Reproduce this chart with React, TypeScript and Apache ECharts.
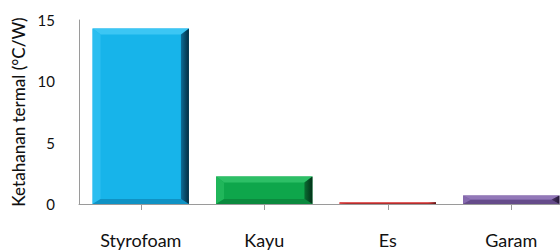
import React, { useEffect, useRef } from "react";
import * as echarts from "echarts";

const categories = ["Styrofoam", "Kayu", "Es", "Garam"];
const values = [14.3, 2.25, 0.15, 0.7];
const yTicks = [0, 5, 10, 15];
const axisTitle = "Ketahanan termal (°C/W)";

const palette = [
  { face: "#17b4ea", top: "#3cc6f4", left: "#2bbef0", right: "#0d6d98", rightDark: "#042c40", bottom: "#0f92c4" },
  { face: "#0ea64b", top: "#2dbf66", left: "#20b65a", right: "#0a6e32", rightDark: "#033018", bottom: "#0b8a3e" },
  { face: "#d23a3a", top: "#e25a5a", left: "#dc4c4c", right: "#8a1f1f", rightDark: "#501010", bottom: "#b02e2e" },
  { face: "#7a5ca2", top: "#9278b8", left: "#866aae", right: "#4c3668", rightDark: "#251838", bottom: "#654b8a" },
];

export default function App() {
  const ref = useRef<HTMLDivElement>(null);
  useEffect(() => {
    if (!ref.current) return;
    const chart = echarts.init(ref.current, undefined, { renderer: "svg" });
    const font = "Lato, 'Open Sans', sans-serif";
    chart.setOption({
      animation: false,
      backgroundColor: "#ffffff",
      grid: { left: 79, top: 20, width: 494, height: 184, containLabel: false },
      xAxis: {
        type: "category",
        data: categories,
        axisLine: { show: true, lineStyle: { color: "#9a9a9a", width: 1 } },
        axisTick: { show: true, alignWithLabel: true, length: 6, lineStyle: { color: "#9a9a9a" } },
        axisLabel: { color: "#111", fontSize: 18, fontFamily: font, margin: 27 },
        splitLine: { show: false },
      },
      yAxis: {
        type: "value",
        min: yTicks[0],
        max: yTicks[yTicks.length - 1],
        interval: 5,
        name: axisTitle,
        nameLocation: "middle",
        nameGap: 50,
        nameTextStyle: { color: "#111", fontSize: 17, fontFamily: font, fontWeight: 500 },
        axisLine: { show: true, lineStyle: { color: "#9a9a9a", width: 1 } },
        axisTick: { show: false },
        axisLabel: { color: "#111", fontSize: 15, fontFamily: font, margin: 24 },
        splitLine: { show: false },
      },
      series: [
        {
          type: "custom",
          data: values.map((v, i) => [i, v]),
          renderItem: (params: any, api: any) => {
            const i = api.value(0);
            const v = api.value(1);
            const top = api.coord([i, v]);
            const base = api.coord([i, 0]);
            const bw = api.size([1, 0])[0] * 0.78;
            const x0 = top[0] - bw / 2;
            const x1 = top[0] + bw / 2;
            const y0 = top[1];
            const y1 = base[1];
            const h = y1 - y0;
            const bx = Math.max(0, Math.min(8, bw / 2));
            const bt = Math.max(0, Math.min(6, h / 2));
            const bb = Math.max(0, Math.min(5, h / 2));
            const c = palette[i % palette.length];
            return {
              type: "group",
              children: [
                { type: "rect", shape: { x: x0, y: y0, width: bw, height: h }, style: { fill: c.face } },
                {
                  type: "polygon",
                  shape: { points: [[x0, y0], [x1, y0], [x1 - bx, y0 + bt], [x0 + bx, y0 + bt]] },
                  style: { fill: c.top },
                },
                {
                  type: "polygon",
                  shape: { points: [[x0, y0], [x0 + bx, y0 + bt], [x0 + bx, y1 - bb], [x0, y1]] },
                  style: { fill: c.left },
                },
                {
                  type: "polygon",
                  shape: { points: [[x0, y1], [x1, y1], [x1 - bx, y1 - bb], [x0 + bx, y1 - bb]] },
                  style: { fill: c.bottom },
                },
                {
                  type: "polygon",
                  shape: { points: [[x1, y0], [x1, y1], [x1 - bx, y1 - bb], [x1 - bx, y0 + bt]] },
                  style: {
                    fill: new echarts.graphic.LinearGradient(0, 0, 1, 0, [
                      { offset: 0, color: c.right },
                      { offset: 1, color: c.rightDark },
                    ]),
                  },
                },
              ],
            };
          },
        },
      ],
    });
    return () => chart.dispose();
  }, []);
  return (
    <div style={{ position: "absolute", left: 0, top: 0, width: 560, height: 251, overflow: "hidden" }}>
      <div ref={ref} style={{ width: 580, height: 251 }} />
    </div>
  );
}
